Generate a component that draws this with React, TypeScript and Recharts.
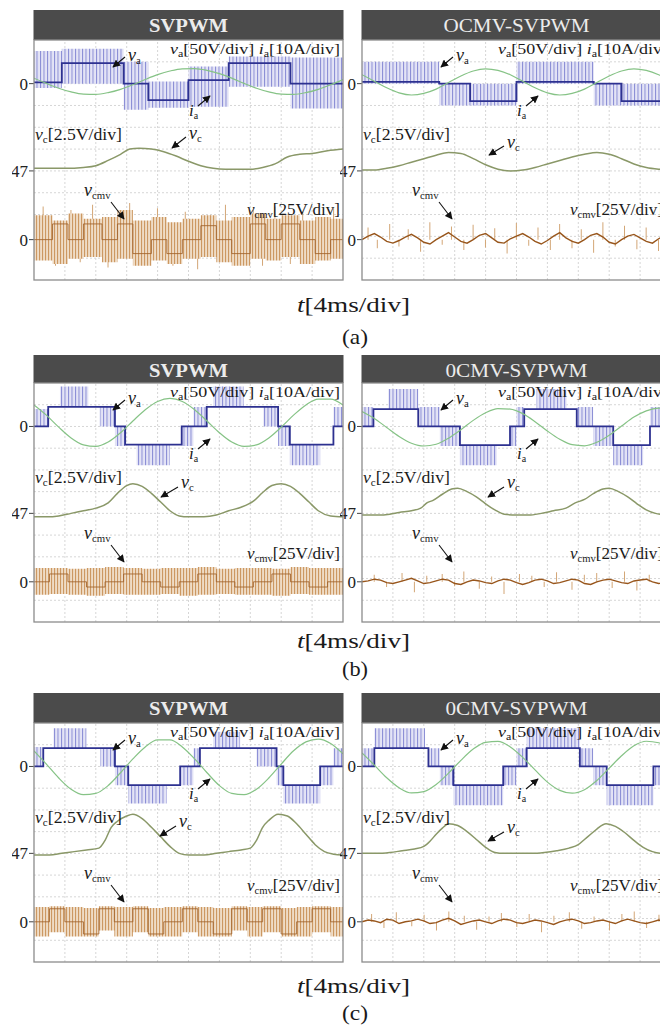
import React from "react";
import { ComposedChart, Line, Area, Bar, XAxis, YAxis, ReferenceLine } from "recharts";

// scope-style layout: time 0..100 (10 div x 4 ms), 11 vertical divisions per panel
// channels: va 50 V/div, ia 10 A/div, vc 2.5 V/div around 47 V, vcmv 25 V/div
const VA0 = 9;
const VC0 = 5;
const CMV0 = 1.85;
const VA_DIV = 50;
const IA_DIV = 10;
const VC_DIV = 2.5;
const VC_REF = 47;
const CMV_DIV = 25;

const t4 = [0, 4, 8, 12, 16, 20, 24, 28, 32, 36, 40, 44, 48, 52, 56, 60, 64, 68, 72, 76, 80, 84, 88, 92, 96, 100];
const t2 = [0, 2, 4, 6, 8, 10, 12, 14, 16, 18, 20, 22, 24, 26, 28, 30, 32, 34, 36, 38, 40, 42, 44, 46, 48, 50,
  52, 54, 56, 58, 60, 62, 64, 66, 68, 70, 72, 74, 76, 78, 80, 82, 84, 86, 88, 90, 92, 94, 96, 98, 100];

// ---- (a) SVPWM
const aL_vaT = [0, 9, 29, 37, 50, 63, 83, 100];
const aL_vaLvl = [3, 47, 0, -38, 8, 47, 0, 0];
const aL_vaHi = [75, 80, 50, 5, 39, 62, 60, 60];
const aL_vaLo = [-10, 0, -60, -55, -53, -7, -57, -57];
const aL_ia = [2.5, 0.1, -2.1, -3.8, -4.8, -4.9, -4.1, -2.6, -0.5, 1.9, 4.1, 5.8, 6.8, 6.9, 6.1, 4.6, 2.5, 0.1, -2.1, -3.8, -4.8, -4.9, -4.1, -2.6, -0.5, 1.9];
const aL_vcT = [0, 10, 16, 20, 24, 28, 31, 34, 38, 42, 46, 50, 54, 58, 62, 66, 70, 74, 78, 82, 86, 90, 95, 100];
const aL_vc = [47.3, 47.3, 47.4, 47.6, 48.2, 48.9, 49.5, 49.6, 49.5, 49.2, 48.7, 48.1, 47.6, 47.3, 47.2, 47.2, 47.2, 47.4, 47.8, 48.6, 48.9, 49.0, 49.3, 49.5];
const aL_cmvT = [0, 6, 11, 16, 22, 27, 32, 38, 43, 48, 54, 59, 64, 70, 75, 80, 86, 91, 96, 100];
const aL_cmvLvl = [0, 18, 0, 18, 0, 18, -16, 0, -16, 0, 16, 0, -16, 18, 0, 18, 0, -16, 0, 0];
const aL_cmvHi = [28, 22, 30, 24, 26, 34, 22, 26, 20, 24, 28, 22, 26, 30, 24, 28, 22, 26, 24, 24];
const aL_cmvLo = [-24, -28, -22, -20, -26, -22, -30, -24, -28, -22, -20, -26, -30, -22, -24, -20, -28, -24, -22, -22];
const aL_spkT = [3, 7, 12, 15, 19, 24, 28, 31, 36, 40, 45, 49, 53, 57, 62, 66, 71, 74, 78, 83, 87, 92, 97];
const aL_spk = [38, -30, 34, -26, 40, -32, 30, 42, -28, 36, -30, 32, -34, 28, 40, -26, 34, -30, 38, -28, 32, -24, 36];

// ---- (a) OCMV-SVPWM
const aR_vaT = [0, 25, 35, 50, 75, 84, 100];
const aR_vaLvl = [4, 0, -40, 4, 0, -40, -40];
const aR_vaHi = [50, 0, 0, 50, 0, 0, 0];
const aR_vaLo = [0, -50, -50, 0, -50, -50, -50];
const aR_ia = [4.1, 1.1, -1.9, -4.2, -5.2, -4.5, -2.5, 0.5, 3.5, 5.8, 6.8, 6.1, 4.1, 1.1, -1.9, -4.2, -5.2, -4.5, -2.5, 0.5, 3.5, 5.8, 6.8, 6.1, 4.1, 1.1];
const aR_vc = [47.1, 47.1, 47.3, 47.6, 48.0, 48.4, 48.8, 49.1, 49.0, 48.4, 47.7, 47.2, 47.0, 47.1, 47.4, 47.8, 48.2, 48.6, 48.9, 49.1, 48.9, 48.4, 47.8, 47.4, 47.2, 47.1];
const aR_cmv = [0, 4, 7, 3, -2, -4, -1, 3, 6, 2, -3, -5, 0, 4, 8, 3, -2, -4, 0, 5, 7, 2, -3, -4, 1, 4, 7, 3, -2, -5,
  -1, 4, 8, 2, -2, -4, 0, 5, 7, 3, -3, -5, 0, 4, 6, 2, -2, -4, 1, 5, 6];
const aR_spkT = [2, 5, 9, 12, 15, 19, 22, 26, 29, 33, 36, 40, 43, 47, 50, 54, 57, 61, 64, 68, 71, 75, 78, 82, 85, 89, 92, 96, 99];
const aR_spk = [14, -10, 18, -8, 12, -14, 20, -6, 15, -12, 17, -9, 13, -16, 19, -7, 14, -12, 18, -10, 12, -15, 20, -8, 16, -11, 14, -13, 17];

// ---- (b) SVPWM
const bL_vaT = [0, 4.6, 8.4, 17.6, 21.3, 26.2, 29.5, 33.2, 44, 47.8, 51.6, 55.9, 58, 67.8, 74.2, 79, 82.8, 92.6, 96.9, 100];
const bL_vaLvl = [0, 45, 45, 45, 45, 0, -42, -42, -42, 0, 0, 45, 45, 45, 45, 0, -42, -42, 0, 0];
const bL_vaHi = [40, 45, 92, 45, 45, 0, -42, -42, -42, 0, 45, 45, 92, 45, 45, 0, -42, -42, 45, 45];
const bL_vaLo = [0, 45, 45, 45, 0, -45, -42, -89, -42, -45, 0, 45, 45, 45, 0, -45, -89, -42, 0, 0];
const bL_ia = [9.9, 5.2, -0.3, -5.3, -8.5, -9.2, -7.2, -2.9, 2.5, 7.7, 11.5, 12.9, 11.5, 7.7, 2.5, -2.9, -7.2, -9.2, -8.5, -5.3, -0.3, 5.2, 9.9, 12.6, 12.6, 9.9];
const bL_vcT = [0, 4, 8, 12, 16, 20, 24, 27, 30, 32, 35, 38, 41, 44, 47, 50, 55, 59, 63, 67, 71, 74, 77, 80, 83, 86, 89, 92, 96, 100];
const bL_vc = [46.6, 46.6, 46.7, 47.0, 47.3, 47.6, 48.2, 49.3, 50.2, 50.4, 50.1, 49.3, 48.3, 47.3, 46.7, 46.6, 46.6, 46.8, 47.3, 47.7, 48.4, 49.4, 50.2, 50.4, 50.1, 49.3, 48.3, 47.3, 46.7, 46.6];
const bL_cmvT = [0, 5, 11, 17, 23, 29, 35, 41, 47, 53, 59, 65, 71, 77, 83, 89, 95, 100];
const bL_cmvLvl = [0, 9, 0, -6, 0, 9, 0, -6, 0, 9, 0, -6, 0, 9, 0, -6, 0, 0];
const bL_cmvHi = [16, 16, 15, 16, 17, 16, 15, 16, 16, 17, 15, 16, 16, 15, 17, 16, 16, 16];
const bL_cmvLo = [-15, -14, -15, -16, -14, -15, -15, -14, -16, -15, -14, -15, -15, -16, -14, -15, -15, -15];

// ---- (b) 0CMV-SVPWM
const bR_vaT = [0, 3.7, 8.5, 18.2, 25.2, 31.7, 43.6, 47.9, 50, 52.5, 56.5, 66.2, 69.5, 74.8, 81.3, 91, 93.2, 100];
const bR_vaLvl = [0, 40, 40, 0, 0, -43, -43, 0, 0, 40, 40, 40, 0, 0, -43, -43, 0, 0];
const bR_vaHi = [45, 40, 86, 45, 0, -43, -43, 0, 45, 40, 86, 40, 45, 0, -43, -43, 45, 45];
const bR_vaLo = [0, 40, 40, 0, -45, -89, -43, -45, 0, 40, 40, 40, 0, -45, -89, -43, 0, 0];
const bR_ia = [6.9, 3.7, -0.5, -4.6, -7.7, -9.0, -8.2, -5.4, -1.5, 2.8, 6.3, 8.2, 8.0, 5.9, 2.2, -2.1, -5.9, -8.4, -8.9, -7.3, -4.0, 0.2, 4.3, 7.2, 8.4, 7.4];
const bR_vcT = [0, 5, 9, 12, 16, 19, 21, 23, 26, 29, 31, 34, 37, 40, 43, 46, 50, 54, 58, 62, 66, 69, 72, 75, 78, 80, 83, 86, 89, 92, 95, 100];
const bR_vc = [46.8, 46.8, 46.9, 47.1, 47.3, 47.6, 48.2, 48.5, 49.2, 49.8, 49.9, 49.5, 48.9, 48.1, 47.4, 46.9, 46.8, 46.8, 47.0, 47.3, 47.6, 48.2, 48.6, 49.3, 49.8, 49.9, 49.5, 48.9, 48.1, 47.4, 47.0, 46.8];
const bR_cmv = [0, 1, 3, 2, -1, -2, 0, 2, 4, 1, -2, -1, 1, 3, 2, -2, -3, 0, 2, 1, -1, -2, 1, 3, 2, -1, -3, -1, 2, 3,
  1, -2, -1, 1, 3, 2, -2, -3, 0, 2, 3, 1, -1, -2, 1, 2, 3, 0, -2, -1, 1];
const bR_spkT = [4, 8, 13, 17, 21, 26, 30, 33, 38, 42, 46, 51, 55, 59, 63, 68, 72, 76, 81, 85, 89, 93, 97];
const bR_spk = [8, -6, 10, -12, 7, 9, -5, 12, -8, 6, -14, 9, 7, -6, 11, -9, 8, 10, -7, 12, -10, 8, 6];

// ---- (c) SVPWM
const cL_vaT = [0, 3, 6.3, 17, 21.4, 26.2, 30.5, 42.9, 47.3, 51.6, 53.7, 58, 66.7, 72, 78.5, 80.7, 92.6, 96.9, 100];
const cL_vaLvl = [0, 42, 42, 42, 42, 0, -43, -43, 0, 0, 42, 42, 42, 42, 0, -43, 0, 0, 0];
const cL_vaHi = [45, 42, 88, 42, 42, 0, -43, -43, 0, 42, 42, 80, 42, 42, 0, -43, 0, 42, 42];
const cL_vaLo = [0, 42, 42, 42, 0, -43, -85, -43, -43, 0, 42, 42, 42, 0, -43, -85, -43, 0, 0];
const cL_ia = [7.2, 1.1, -5.3, -10.5, -13.0, -12.4, -8.8, -2.9, 3.5, 9.0, 12.2, 12.2, 9.0, 3.5, -2.9, -8.8, -12.4, -13.0, -10.5, -5.3, 1.1, 7.2, 11.3, 12.6, 10.6, 5.8];
const cL_vcT = [0, 5, 9, 13, 17, 21, 23, 25, 27, 30, 32, 35, 38, 41, 44, 47, 50, 55, 59, 63, 67, 70, 72, 74, 76, 79, 82, 85, 88, 91, 94, 97, 100];
const cL_vc = [46.8, 46.8, 47.0, 47.2, 47.4, 47.6, 48.5, 50.0, 50.7, 51.3, 51.5, 51.0, 50.0, 48.9, 47.8, 47.0, 46.8, 46.8, 47.0, 47.2, 47.4, 47.6, 48.5, 50.0, 50.8, 51.5, 51.3, 50.4, 49.2, 48.0, 47.2, 46.9, 46.8];
const cL_cmvT = [0, 5, 10, 16, 21, 26, 32, 37, 42, 48, 53, 58, 64, 69, 74, 80, 85, 90, 96, 100];
const cL_cmvLvl = [0, 15, 0, -14, 15, 0, 15, -14, 0, 15, 0, -14, 15, 0, 15, -14, 0, 15, 0, 0];
const cL_cmvHi = [17, 18, 17, 16, 18, 17, 18, 16, 17, 18, 17, 16, 18, 17, 18, 16, 17, 18, 17, 17];
const cL_cmvLo = [-17, -12, -17, -17, -10, -17, -12, -17, -17, -12, -17, -17, -10, -17, -12, -17, -17, -12, -17, -17];

// ---- (c) 0CMV-SVPWM
const cR_vaT = [0, 4, 20.4, 21.5, 25.2, 29.6, 45.7, 50, 53.3, 70.5, 74.8, 79.2, 94.3, 97, 100];
const cR_vaLvl = [0, 42, 42, 0, 0, -43, 0, 0, 42, 0, 0, -43, 0, 0, 0];
const cR_vaHi = [42, 88, 42, 42, 0, -43, 0, 42, 88, 42, 0, -43, 0, 42, 42];
const cR_vaLo = [0, 42, 42, 0, -43, -89, -43, 0, 42, 0, -43, -89, -43, 0, 0];
const cR_ia = [6.2, 0.6, -5.2, -9.8, -12.2, -11.6, -8.3, -3.1, 2.8, 8.0, 11.1, 11.5, 9.0, 4.2, -1.6, -7.2, -11.0, -12.3, -10.7, -6.5, -0.8, 4.9, 9.5, 11.6, 10.9, 7.4];
const cR_vcT = [0, 5, 9, 13, 17, 20, 22, 24, 26, 28, 31, 34, 37, 40, 43, 46, 50, 55, 59, 63, 67, 70, 72, 74, 76, 79, 82, 85, 88, 91, 94, 97, 100];
const cR_vc = [47.0, 47.0, 47.1, 47.3, 47.5, 47.8, 48.4, 49.2, 49.9, 50.4, 50.2, 49.5, 48.6, 47.7, 47.1, 47.0, 47.0, 47.0, 47.1, 47.3, 47.6, 48.0, 48.6, 49.2, 49.8, 50.4, 50.1, 49.4, 48.5, 47.7, 47.2, 47.0, 47.0];
const cR_cmv = [0, 2, 1, -1, 3, 2, -2, 0, 1, 3, 1, -2, -1, 2, 4, 1, -3, -1, 1, 2, 0, -2, 1, 3, 2, -1, -2, 0, 2, 1,
  -1, -3, 0, 2, 3, 1, -2, -1, 1, 2, 0, -2, 1, 3, 1, -1, -2, 0, 2, 1, 0];
const cR_spkT = [3, 7, 11, 16, 20, 24, 28, 33, 37, 41, 45, 50, 54, 58, 62, 67, 71, 75, 80, 84, 88, 92, 96];
const cR_spk = [9, -7, 11, -5, 8, -10, 12, 7, -9, 6, 10, -6, 9, -12, 7, 11, -8, 6, -10, 9, 12, -7, 8];

// table builders (channel value -> screen division)
const vaRows = (t: number[], lvl: number[], hi: number[], lo: number[]) =>
  t.map((x, i) => ({ t: x, lvl: VA0 + lvl[i] / VA_DIV, band: [VA0 + lo[i] / VA_DIV, VA0 + hi[i] / VA_DIV] }));
const iaRows = (v: number[]) => t4.map((x, i) => ({ t: x, v: VA0 + v[i] / IA_DIV }));
const vcRows = (t: number[], v: number[]) => t.map((x, i) => ({ t: x, v: VC0 + (v[i] - VC_REF) / VC_DIV }));
const cmvBandRows = (t: number[], lvl: number[], hi: number[], lo: number[]) =>
  t.map((x, i) => ({ t: x, lvl: CMV0 + lvl[i] / CMV_DIV, band: [CMV0 + lo[i] / CMV_DIV, CMV0 + hi[i] / CMV_DIV] }));
const cmvLineRows = (v: number[]) => t2.map((x, i) => ({ t: x, v: CMV0 + v[i] / CMV_DIV }));
const spikeRows = (t: number[], v: number[]) =>
  t.map((x, i) => {
    const a = CMV0;
    const b = CMV0 + v[i] / CMV_DIV;
    return { t: x, rng: [Math.min(a, b), Math.max(a, b)] };
  });

const W = 309;
const AX = 22;
const COLS = [34, 362];
const ROWS = [
  { hdr: 10, top: 40, h: 240, tY: 312, capY: 344, cap: "(a)", cmvY: 175 },
  { hdr: 355, top: 383, h: 239, tY: 648, capY: 676, cap: "(b)", cmvY: 176 },
  { hdr: 693, top: 723, h: 239, tY: 993, capY: 1020, cap: "(c)", cmvY: 168 },
];

const PANELS: any[] = [
  { row: 0, col: 0, title: "SVPWM", bold: true, titleLen: 79,
    va: vaRows(aL_vaT, aL_vaLvl, aL_vaHi, aL_vaLo), ia: iaRows(aL_ia), vc: vcRows(aL_vcT, aL_vc),
    cmvBand: cmvBandRows(aL_cmvT, aL_cmvLvl, aL_cmvHi, aL_cmvLo), spikes: spikeRows(aL_spkT, aL_spk),
    vcLab: [155, 99], vcArr: [152, 97, 138, 108] },
  { row: 0, col: 1, title: "OCMV-SVPWM", titleLen: 146,
    va: vaRows(aR_vaT, aR_vaLvl, aR_vaHi, aR_vaLo), ia: iaRows(aR_ia), vc: vcRows(t4, aR_vc),
    cmvLine: cmvLineRows(aR_cmv), spikes: spikeRows(aR_spkT, aR_spk),
    vcLab: [145, 108], vcArr: [142, 106, 127, 115] },
  { row: 1, col: 0, title: "SVPWM", bold: true, titleLen: 79,
    va: vaRows(bL_vaT, bL_vaLvl, bL_vaHi, bL_vaLo), ia: iaRows(bL_ia), vc: vcRows(bL_vcT, bL_vc),
    cmvBand: cmvBandRows(bL_cmvT, bL_cmvLvl, bL_cmvHi, bL_cmvLo),
    vcLab: [147, 105], vcArr: [144, 104, 127, 114] },
  { row: 1, col: 1, title: "0CMV-SVPWM", titleLen: 142,
    va: vaRows(bR_vaT, bR_vaLvl, bR_vaHi, bR_vaLo), ia: iaRows(bR_ia), vc: vcRows(bR_vcT, bR_vc),
    cmvLine: cmvLineRows(bR_cmv), spikes: spikeRows(bR_spkT, bR_spk),
    vcLab: [145, 105], vcArr: [142, 104, 126, 114] },
  { row: 2, col: 0, title: "SVPWM", bold: true, titleLen: 79,
    va: vaRows(cL_vaT, cL_vaLvl, cL_vaHi, cL_vaLo), ia: iaRows(cL_ia), vc: vcRows(cL_vcT, cL_vc),
    cmvBand: cmvBandRows(cL_cmvT, cL_cmvLvl, cL_cmvHi, cL_cmvLo),
    vcLab: [145, 104], vcArr: [142, 103, 126, 113] },
  { row: 2, col: 1, title: "0CMV-SVPWM", titleLen: 142,
    va: vaRows(cR_vaT, cR_vaLvl, cR_vaHi, cR_vaLo), ia: iaRows(cR_ia), vc: vcRows(cR_vcT, cR_vc),
    cmvLine: cmvLineRows(cR_cmv), spikes: spikeRows(cR_spkT, cR_spk),
    vcLab: [145, 110], vcArr: [142, 109, 126, 118] },
];

const GRID_X = [10, 20, 30, 40, 50, 60, 70, 80, 90];
const GRID_Y = [1, 2, 3, 4, 5, 6, 7, 8, 9, 10];
const SERIF = "'Liberation Serif', 'Times New Roman', serif";

function Layer({ h, data, axis, children }: any) {
  return (
    <div style={{ position: "absolute", left: 0, top: 0 }}>
      <ComposedChart width={AX + W} height={h} data={data} margin={{ top: 0, right: 0, bottom: 0, left: axis ? 0 : AX }}>
        <XAxis type="number" dataKey="t" domain={[0, 100]} hide allowDataOverflow />
        {axis ? (
          <YAxis
            type="number"
            domain={[0, 11]}
            ticks={[CMV0, VC0, VA0]}
            interval={0}
            tickFormatter={(v: number) => (v === VC0 ? "47" : "0")}
            width={AX}
            tickSize={5}
            tickMargin={1}
            axisLine={false}
            tickLine={{ stroke: "#444" }}
            tick={{ fill: "#222", fontSize: 17, fontFamily: SERIF }}
            allowDataOverflow
          />
        ) : (
          <YAxis type="number" domain={[0, 11]} hide allowDataOverflow />
        )}
        {children}
      </ComposedChart>
    </div>
  );
}

function Panel({ p }: any) {
  const r = ROWS[p.row];
  return (
    <div style={{ position: "absolute", left: COLS[p.col] - AX, top: r.top, width: AX + W, height: r.h }}>
      <Layer h={r.h} data={p.vc} axis>
        {GRID_X.map((x) => (
          <ReferenceLine key={"x" + x} x={x} stroke="#d6d6d6" strokeDasharray="2 2" />
        ))}
        {GRID_Y.map((y) => (
          <ReferenceLine key={"y" + y} y={y} stroke="#d6d6d6" strokeDasharray="2 2" />
        ))}
        <Line dataKey="v" type="monotone" stroke="#8a9868" strokeWidth={1.5} dot={false} isAnimationActive={false} />
      </Layer>
      {p.spikes && (
        <Layer h={r.h} data={p.spikes}>
          <Bar dataKey="rng" barSize={1} fill="#d3a676" isAnimationActive={false} />
        </Layer>
      )}
      {p.cmvBand && (
        <Layer h={r.h} data={p.cmvBand}>
          <Area dataKey="band" type="stepAfter" fill="url(#cmvPat)" fillOpacity={1} stroke="none" isAnimationActive={false} />
          <Line dataKey="lvl" type="stepAfter" stroke="#a0612a" strokeOpacity={0.85} strokeWidth={1} dot={false} isAnimationActive={false} />
        </Layer>
      )}
      {p.cmvLine && (
        <Layer h={r.h} data={p.cmvLine}>
          <Line dataKey="v" type="linear" stroke="#98561c" strokeWidth={1.4} dot={false} isAnimationActive={false} />
        </Layer>
      )}
      <Layer h={r.h} data={p.va}>
        <Area dataKey="band" type="stepAfter" fill="url(#vaPat)" fillOpacity={1} stroke="none" isAnimationActive={false} />
        <Line dataKey="lvl" type="stepAfter" stroke="#2d3190" strokeWidth={1.8} dot={false} isAnimationActive={false} />
      </Layer>
      <Layer h={r.h} data={p.ia}>
        <Line dataKey="v" type="monotone" stroke="#86c386" strokeWidth={1.2} dot={false} isAnimationActive={false} />
      </Layer>
    </div>
  );
}

function V({ x, y, sub, size = 18 }: any) {
  return (
    <text x={x} y={y} fontSize={size}>
      <tspan fontStyle="italic">v</tspan>
      <tspan fontSize={size * 0.6} dy={3}>{sub}</tspan>
    </text>
  );
}

function Arrow({ a }: any) {
  return <line x1={a[0]} y1={a[1]} x2={a[2]} y2={a[3]} stroke="#111" strokeWidth={1.1} markerEnd="url(#arr)" />;
}

function Notes({ p }: any) {
  const r = ROWS[p.row];
  const ox = COLS[p.col];
  return (
    <g transform={`translate(${ox},${r.top})`} fill="#1a1a1a">
      <text x={136} y={14} fontSize={15} textLength={170} lengthAdjust="spacingAndGlyphs">
        <tspan fontStyle="italic">v</tspan>
        <tspan fontSize={10} dy={3}>a</tspan>
        <tspan dy={-3}>[50V/div] </tspan>
        <tspan fontStyle="italic">i</tspan>
        <tspan fontSize={10} dy={3}>a</tspan>
        <tspan dy={-3}>[10A/div]</tspan>
      </text>
      <V x={94} y={21} sub="a" />
      <Arrow a={[91, 17, 79, 27]} />
      <text x={155} y={76} fontSize={17}>
        <tspan fontStyle="italic">i</tspan>
        <tspan fontSize={10} dy={3}>a</tspan>
      </text>
      <Arrow a={[164, 66, 176, 56]} />
      <text x={1} y={100} fontSize={16} textLength={87} lengthAdjust="spacingAndGlyphs">
        <tspan fontStyle="italic">v</tspan>
        <tspan fontSize={10} dy={3}>c</tspan>
        <tspan dy={-3}>[2.5V/div]</tspan>
      </text>
      <V x={p.vcLab[0]} y={p.vcLab[1]} sub="c" />
      <Arrow a={p.vcArr} />
      <V x={50} y={156} sub="cmv" />
      <Arrow a={[77, 162, 90, 179]} />
      <text x={p.col === 0 ? 213 : 208} y={r.cmvY} fontSize={16} textLength={93} lengthAdjust="spacingAndGlyphs">
        <tspan fontStyle="italic">v</tspan>
        <tspan fontSize={10} dy={3}>cmv</tspan>
        <tspan dy={-3}>[25V/div]</tspan>
      </text>
    </g>
  );
}

function Frame({ p }: any) {
  const r = ROWS[p.row];
  const x = COLS[p.col];
  const cx = x + W / 2;
  return (
    <g>
      <rect x={x - 0.5} y={r.hdr} width={W + 1} height={r.top - r.hdr} fill="#4b4b4b" />
      <text
        x={cx - p.titleLen / 2}
        y={r.hdr + 22}
        fontSize={19}
        fontWeight={p.bold ? 700 : 400}
        fill="#ececec"
        textLength={p.titleLen}
        lengthAdjust="spacingAndGlyphs"
      >
        {p.title}
      </text>
      <rect x={x} y={r.top} width={W} height={r.h} fill="none" stroke="#8c8c8c" strokeWidth={1.3} />
    </g>
  );
}

export default function App() {
  return (
    <div
      style={{
        position: "absolute",
        left: 0,
        top: 0,
        width: 660,
        height: 1027,
        overflow: "hidden",
        background: "#fff",
        fontFamily: SERIF,
      }}
    >
      <svg width={0} height={0} style={{ position: "absolute" }}>
        <defs>
          <pattern id="vaPat" width="3.5" height="6" patternUnits="userSpaceOnUse">
            <rect width="3.5" height="6" fill="#e4e4f6" />
            <rect width="1" height="6" fill="#878ad4" />
          </pattern>
          <pattern id="cmvPat" width="3" height="6" patternUnits="userSpaceOnUse">
            <rect width="3" height="6" fill="#efdcc6" />
            <rect width="1.1" height="6" fill="#cc9862" />
          </pattern>
        </defs>
      </svg>
      {PANELS.map((p, i) => (
        <Panel key={i} p={p} />
      ))}
      <svg
        width={660}
        height={1027}
        style={{ position: "absolute", left: 0, top: 0, pointerEvents: "none" }}
        fontFamily={SERIF}
      >
        <defs>
          <marker id="arr" viewBox="0 0 10 10" refX="9" refY="5" markerWidth="7" markerHeight="7" orient="auto">
            <path d="M0,0 L10,5 L0,10 z" fill="#111" />
          </marker>
        </defs>
        {PANELS.map((p, i) => (
          <Frame key={"f" + i} p={p} />
        ))}
        {PANELS.map((p, i) => (
          <Notes key={"n" + i} p={p} />
        ))}
        {ROWS.map((r) => (
          <g key={r.cap} fill="#1a1a1a">
            <text x={297} y={r.tY} fontSize={21} textLength={113} lengthAdjust="spacingAndGlyphs">
              <tspan fontStyle="italic">t</tspan>
              <tspan>[4ms/div]</tspan>
            </text>
            <text x={342} y={r.capY} fontSize={21} textLength={26} lengthAdjust="spacingAndGlyphs">
              {r.cap}
            </text>
          </g>
        ))}
      </svg>
    </div>
  );
}
